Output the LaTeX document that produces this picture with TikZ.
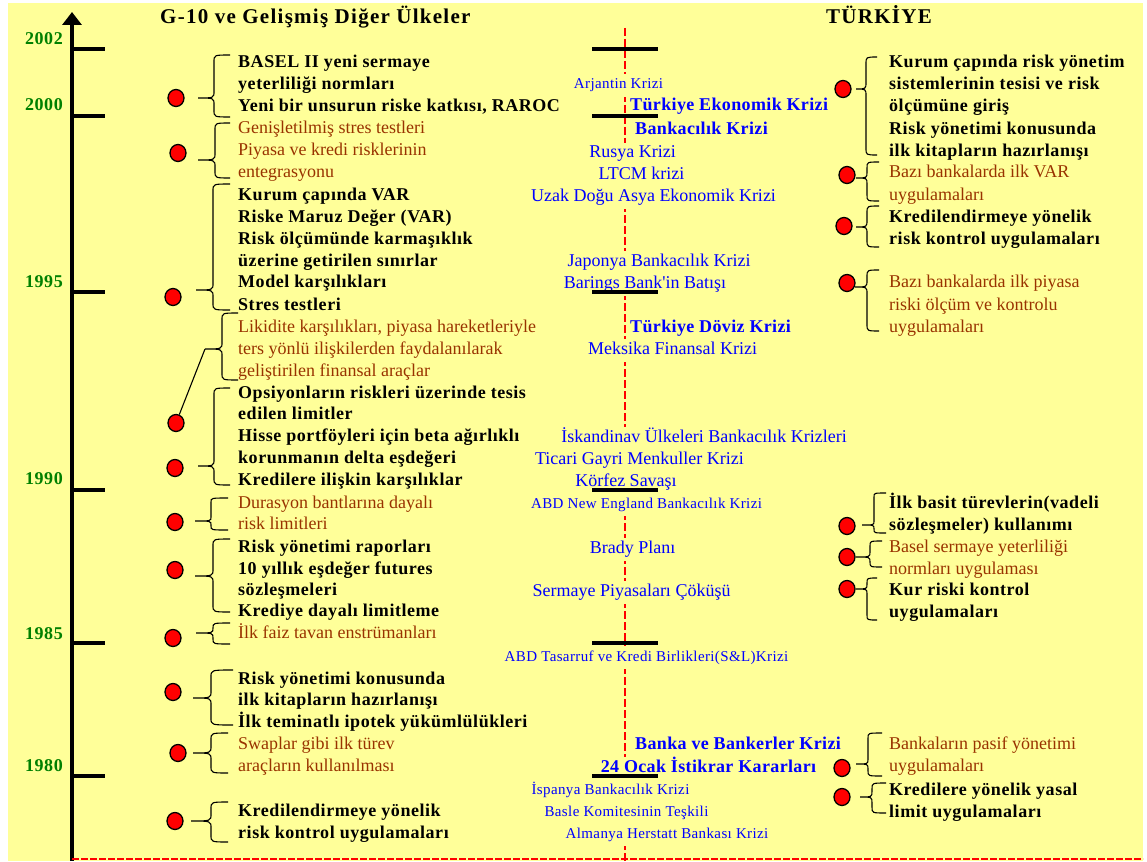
\documentclass[tikz,border=0pt]{standalone}
\usepackage{fontspec}
\setmainfont{Liberation Serif}[Ligatures=TeXOff]
\usetikzlibrary{arrows.meta,shapes.geometric}
\definecolor{bgy}{RGB}{255,255,153}
\definecolor{brn}{RGB}{153,51,0}
\definecolor{blu}{RGB}{0,0,255}
\definecolor{grn}{RGB}{0,128,0}
\definecolor{dred}{RGB}{255,0,0}
\tikzset{
 txtb/.style={anchor=base west, inner sep=0pt, font=\fontsize{18}{22}\selectfont\bfseries\addfontfeatures{LetterSpace=3}},
 txtr/.style={anchor=base west, inner sep=0pt, text=brn, font=\fontsize{18}{22}\selectfont},
 crs/.style={anchor=base, fill=bgy, inner xsep=1pt, inner ysep=0pt, text height=15pt, text depth=8pt, text=blu, font=\fontsize{18}{22}\selectfont},
 crss/.style={crs, font=\fontsize{15}{18}\selectfont\addfontfeatures{LetterSpace=2.5}},
 crsb/.style={crs, font=\fontsize{18}{22}\selectfont\bfseries\addfontfeatures{LetterSpace=2}},
 dot/.style={ellipse, draw=black, line width=1.3pt, fill=dred, minimum width=16pt, minimum height=17pt, inner sep=0pt},
 brcs/.style={draw=black, line width=1.1pt},
 tickm/.style={line width=3.5pt, draw=black},
 yr/.style={anchor=base east, inner sep=0pt, text=grn, font=\fontsize{18}{22}\selectfont\bfseries\addfontfeatures{LetterSpace=3}},
 hdr/.style={anchor=base west, inner sep=0pt, font=\fontsize{21}{25}\selectfont\bfseries\addfontfeatures{LetterSpace=6}},
 redln/.style={draw=dred, line width=1.8pt, dash pattern=on 8pt off 3pt},
}
% #1 tip x, #2 body x, #3 end x, #4 top y, #5 tip y, #6 bottom y, #7 corner
\newcommand\mybr[7]{\draw[brcs] (#3,#4) .. controls (#2,#4) .. (#2,#4+#7) -- (#2,#5-#7) .. controls (#2,#5) .. (#1,#5) .. controls (#2,#5) .. (#2,#5+#7) -- (#2,#6-#7) .. controls (#2,#6) .. (#3,#6);}
\newcommand\rowL[4]{\node[#1] (#2) at (238,#3) {#4};}
\newcommand\rowR[4]{\node[#1] (#2) at (889,#3) {#4};}
\begin{document}
\begin{tikzpicture}[x=1pt,y=-1pt]
\useasboundingbox (0,0) rectangle (1147,861);
\fill[bgy] (8,3) rectangle (1143,861);

% headers
\node[hdr] (hl) at (160,24) {G-10 ve Gelişmiş Diğer Ülkeler};
\node[hdr] (hr) at (826,24) {TÜRKİYE};

% main axis
\coordinate (atop) at (72,12);
\coordinate (abot) at (72,861);
\draw[line width=4pt, -{Triangle[length=13pt,width=19pt]}] (abot) -- (atop);
\foreach \yy in {49,116,292,490,643,776} {\draw[tickm] (72,\yy) -- (105,\yy);}

% years
\node[yr] (y2002) at (63,45) {2002};
\node[yr] (y2000) at (63,111) {2000};
\node[yr] (y1995) at (63,287) {1995};
\node[yr] (y1990) at (63,484) {1990};
\node[yr] (y1985) at (63,639) {1985};
\node[yr] (y1980) at (63,771) {1980};

% middle dashed line
\coordinate (ctop) at (625,28);
\coordinate (cbot) at (625,861);
\draw[redln] (ctop) -- (cbot);

% bottom dashed line
\coordinate (bl) at (72,859);
\coordinate (br) at (1143,859);
\draw[draw=dred, line width=2pt, dash pattern=on 7pt off 2pt] (bl) -- (br);

% middle column texts
\node[crss] (m1) at (618.5,89) {Arjantin Krizi};
\node[crsb,anchor=base west] (m2) at (629,111) {Türkiye Ekonomik Krizi};
\node[crsb,anchor=base west] (m3) at (634,135) {Bankacılık Krizi};
\node[crs] (m4) at (632.5,158) {Rusya Krizi};
\node[crs] (m5) at (641.5,179) {LTCM krizi};
\node[crs] (m6) at (653.5,201) {Uzak Doğu Asya Ekonomik Krizi};
\node[crs] (m7) at (659,266) {Japonya Bankacılık Krizi};
\node[crs] (m8) at (645,288) {Barings Bank'in Batışı};
\node[crsb,anchor=base west] (m9) at (629,332) {Türkiye Döviz Krizi};
\node[crs] (m10) at (672.5,354) {Meksika Finansal Krizi};
\node[crs] (m11) at (704,442) {İskandinav Ülkeleri Bankacılık Krizleri};
\node[crs] (m12) at (639.5,464) {Ticari Gayri Menkuller Krizi};
\node[crs] (m13) at (626,486) {Körfez Savaşı};
\node[crss] (m14) at (646.5,508) {ABD New England Bankacılık Krizi};
\node[crs] (m15) at (632.5,553) {Brady Planı};
\node[crs] (m16) at (631.5,596) {Sermaye Piyasaları Çöküşü};
\node[crss] (m17) at (646.5,661) {ABD Tasarruf ve Kredi Birlikleri(S\&L)Krizi};
\node[crsb,anchor=base west] (m18) at (634,749) {Banka ve Bankerler Krizi};
\node[crsb] (m19) at (708.5,772) {24 Ocak İstikrar Kararları};
\node[crss] (m20) at (610.5,794) {İspanya Bankacılık Krizi};
\node[crss] (m21) at (626.5,816) {Basle Komitesinin Teşkili};
\node[crss] (m22) at (667,838) {Almanya Herstatt Bankası Krizi};

% middle ticks
\foreach \yy in {49,116,292,490,643,776} {\draw[tickm] (592,\yy) -- (658,\yy);}

% left column
\rowL{txtb}{l1a}{68}{BASEL II yeni sermaye}
\rowL{txtb}{l1b}{90}{yeterliliği normları}
\rowL{txtb}{l1c}{112}{Yeni bir unsurun riske katkısı, RAROC}
\rowL{txtr}{l2a}{134}{Genişletilmiş stres testleri}
\rowL{txtr}{l2b}{156}{Piyasa ve kredi risklerinin}
\rowL{txtr}{l2c}{178}{entegrasyonu}
\rowL{txtb}{l3a}{200}{Kurum çapında VAR}
\rowL{txtb}{l3b}{222}{Riske Maruz Değer (VAR)}
\rowL{txtb}{l3c}{244}{Risk ölçümünde karmaşıklık}
\rowL{txtb}{l3d}{266}{üzerine getirilen sınırlar}
\rowL{txtb}{l3e}{287}{Model karşılıkları}
\rowL{txtb}{l3f}{310}{Stres testleri}
\rowL{txtr}{l4a}{332}{Likidite karşılıkları, piyasa hareketleriyle}
\rowL{txtr}{l4b}{354}{ters yönlü ilişkilerden faydalanılarak}
\rowL{txtr}{l4c}{376}{geliştirilen finansal araçlar}
\rowL{txtb}{l5a}{398}{Opsiyonların riskleri üzerinde tesis}
\rowL{txtb}{l5b}{419}{edilen limitler}
\rowL{txtb}{l5c}{441}{Hisse portföyleri için beta ağırlıklı}
\rowL{txtb}{l5d}{463}{korunmanın delta eşdeğeri}
\rowL{txtb}{l5e}{485}{Kredilere ilişkin karşılıklar}
\rowL{txtr}{l6a}{508}{Durasyon bantlarına dayalı}
\rowL{txtr}{l6b}{529}{risk limitleri}
\rowL{txtb}{l7a}{552}{Risk yönetimi raporları}
\rowL{txtb}{l7b}{574}{10 yıllık eşdeğer futures}
\rowL{txtb}{l7c}{595}{sözleşmeleri}
\rowL{txtb}{l7d}{616}{Krediye dayalı limitleme}
\rowL{txtr}{l8a}{638}{İlk faiz tavan enstrümanları}
\rowL{txtb}{l9a}{684}{Risk yönetimi konusunda}
\rowL{txtb}{l9b}{705}{ilk kitapların hazırlanışı}
\rowL{txtb}{l9c}{727}{İlk teminatlı ipotek yükümlülükleri}
\rowL{txtr}{l10a}{749}{Swaplar gibi ilk türev}
\rowL{txtr}{l10b}{771}{araçların kullanılması}
\rowL{txtb}{l11a}{816}{Kredilendirmeye yönelik}
\rowL{txtb}{l11b}{838}{risk kontrol uygulamaları}

% left braces
\mybr{198}{214}{230}{55}{98}{117}{7}
\mybr{198}{215}{230}{123}{160}{178}{7}
\mybr{196}{213}{230}{184}{290}{310}{7}
\mybr{205}{222}{238}{313}{349}{380}{7}
\mybr{198}{214}{230}{388}{466}{485}{7}
\mybr{195}{211}{228}{498}{521}{530}{4}
\mybr{195}{213}{230}{539}{576}{612}{7}
\mybr{196}{213}{230}{623}{633}{644}{5}
\mybr{193}{211}{233}{670}{698}{725}{7}
\mybr{193}{211}{228}{733}{753}{773}{7}
\mybr{191}{211}{228}{802}{821}{842}{7}
\coordinate (l4tip) at (205,349);

% left dots
\node[dot] (dl1) at (176,98) {};
\node[dot] (dl2) at (178,153) {};
\node[dot] (dl3) at (173,297) {};
\node[dot] (dl5a) at (176,423) {};
\node[dot] (dl5b) at (175,468) {};
\node[dot] (dl6) at (175,522) {};
\node[dot] (dl7) at (175,570) {};
\node[dot] (dl8) at (173,638) {};
\node[dot] (dl9) at (173,692) {};
\node[dot] (dl10) at (178,753) {};
\node[dot] (dl11) at (175,821) {};
\draw[brcs] (dl5a) -- (l4tip);

% right column
\rowR{txtb}{r1a}{68}{Kurum çapında risk yönetim}
\rowR{txtb}{r1b}{90}{sistemlerinin tesisi ve risk}
\rowR{txtb}{r1c}{112}{ölçümüne giriş}
\rowR{txtb}{r1d}{135}{Risk yönetimi konusunda}
\rowR{txtb}{r1e}{157}{ilk kitapların hazırlanışı}
\rowR{txtr}{r2a}{178}{Bazı bankalarda ilk VAR}
\rowR{txtr}{r2b}{200}{uygulamaları}
\rowR{txtb}{r3a}{222}{Kredilendirmeye yönelik}
\rowR{txtb}{r3b}{244}{risk kontrol uygulamaları}
\rowR{txtr}{r4a}{287}{Bazı bankalarda ilk piyasa}
\rowR{txtr}{r4b}{310}{riski ölçüm ve kontrolu}
\rowR{txtr}{r4c}{332}{uygulamaları}
\rowR{txtb}{r5a}{508}{İlk basit türevlerin(vadeli}
\rowR{txtb}{r5b}{530}{sözleşmeler) kullanımı}
\rowR{txtr}{r6a}{552}{Basel sermaye yeterliliği}
\rowR{txtr}{r6b}{574}{normları uygulaması}
\rowR{txtb}{r7a}{595}{Kur riski kontrol}
\rowR{txtb}{r7b}{617}{uygulamaları}
\rowR{txtr}{r8a}{749}{Bankaların pasif yönetimi}
\rowR{txtr}{r8b}{771}{uygulamaları}
\rowR{txtb}{r9a}{795}{Kredilere yönelik yasal}
\rowR{txtb}{r9b}{817}{limit uygulamaları}

% right braces
\mybr{856}{866}{877}{57}{89}{155}{7}
\mybr{856}{867}{879}{162}{178}{201}{6}
\mybr{856}{867}{879}{206}{227}{247}{7}
\mybr{855}{867}{879}{270}{287}{331}{7}
\mybr{862}{874}{886}{493}{525}{533}{4}
\mybr{856}{870}{882}{541}{557}{567}{5}
\mybr{856}{867}{877}{578}{589}{620}{5}
\mybr{856}{868}{882}{733}{764}{776}{5}
\mybr{860}{872}{886}{783}{797}{813}{6}

% right dots
\node[dot] (dr1) at (843,89) {};
\node[dot] (dr2) at (847,175) {};
\node[dot] (dr3) at (844,226) {};
\node[dot] (dr4) at (847,283) {};
\node[dot] (dr5) at (847,526) {};
\node[dot] (dr6) at (847,557) {};
\node[dot] (dr7) at (847,589) {};
\node[dot] (dr8) at (842,768) {};
\node[dot] (dr9) at (842,797) {};
\end{tikzpicture}
\end{document}
